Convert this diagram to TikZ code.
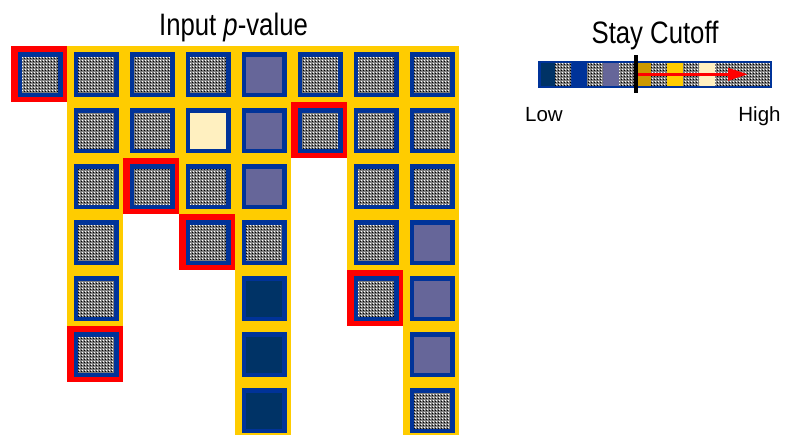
\documentclass[tikz,border=0pt]{standalone}
\usepackage{fontspec}
\setmainfont{Liberation Sans}
\newfontfamily\narrowfont{Liberation Sans}[FakeStretch=0.83]
\usetikzlibrary{patterns,arrows.meta}
\definecolor{cyel}{HTML}{FFCC00}
\definecolor{cred}{HTML}{FF0000}
\definecolor{cblue}{HTML}{003399}
\definecolor{clav}{HTML}{666699}
\definecolor{cnavy}{HTML}{003366}
\definecolor{ccream}{HTML}{FFF0C0}
\definecolor{cgold}{HTML}{CC9900}
\definecolor{cgray}{HTML}{7E7E7E}
\pgfdeclarepatternformonly{darkdots}{\pgfpointorigin}{\pgfqpoint{3pt}{3pt}}{\pgfqpoint{3pt}{3pt}}{\pgfpathrectangle{\pgfpointorigin}{\pgfqpoint{1.1pt}{1.1pt}}\pgfusepath{fill}}
\pgfdeclarepatternformonly{lightdots}{\pgfpointorigin}{\pgfqpoint{3pt}{3pt}}{\pgfqpoint{3pt}{3pt}}{\pgfpathrectangle{\pgfqpoint{1.5pt}{1.5pt}}{\pgfqpoint{1pt}{1pt}}\pgfusepath{fill}}
\tikzset{
  cellbg/.style={minimum size=56pt, inner sep=0pt, outer sep=0pt, fill=cyel},
  redbg/.style={cellbg, fill=cred},
  sq/.style={minimum size=40.5pt, inner sep=0pt, outer sep=0pt, line width=4.5pt, draw=cblue},
  dither/.style={preaction={fill=cgray}, preaction={pattern=darkdots, pattern color=black}, pattern=lightdots, pattern color=white},
  pat/.style={sq, dither},
  lav/.style={sq, fill=clav},
  navy/.style={sq, fill=cnavy},
  cream/.style={sq, fill=ccream},
  title/.style={font=\narrowfont\fontsize{31}{36}\selectfont, inner sep=0pt, anchor=base},
  endlabel/.style={font=\fontsize{20.5}{24}\selectfont, inner sep=0pt, anchor=base}
}
\begin{document}
\begin{tikzpicture}[x=1pt,y=-1pt]
\useasboundingbox (0,0) rectangle (787,434);
\clip (0,0) rectangle (787,434);
\fill[white] (0,0) rectangle (787,434);
% grid of cells
\foreach \c/\r/\t/\b in {
  0/0/pat/redbg,
  1/0/pat/cellbg, 1/1/pat/cellbg, 1/2/pat/cellbg, 1/3/pat/cellbg, 1/4/pat/cellbg, 1/5/pat/redbg,
  2/0/pat/cellbg, 2/1/pat/cellbg, 2/2/pat/redbg,
  3/0/pat/cellbg, 3/1/cream/cellbg, 3/2/pat/cellbg, 3/3/pat/redbg,
  4/0/lav/cellbg, 4/1/lav/cellbg, 4/2/lav/cellbg, 4/3/pat/cellbg, 4/4/navy/cellbg, 4/5/navy/cellbg, 4/6/navy/cellbg,
  5/0/pat/cellbg, 5/1/pat/redbg,
  6/0/pat/cellbg, 6/1/pat/cellbg, 6/2/pat/cellbg, 6/3/pat/cellbg, 6/4/pat/redbg,
  7/0/pat/cellbg, 7/1/pat/cellbg, 7/2/pat/cellbg, 7/3/lav/cellbg, 7/4/lav/cellbg, 7/5/lav/cellbg, 7/6/pat/cellbg}
{
  \node[\b] (bg-\c-\r) at ({39+56*\c},{74+56*\r}) {};
  \node[\t] (sq-\c-\r) at ([xshift=1pt,yshift=-0.5pt]bg-\c-\r.center) {};
}
% titles
\node[title] (ttlin) at (233.5,35.5) {Input \textit{p}-value};
\node[title] (ttlstay) at (655,43) {Stay Cutoff};
% colour bar
\foreach \a/\e/\f in {540.7/555/cnavy, 571/587/cblue, 603/619/clav, 635/651/cgold, 667/683/cyel, 699/715/ccream}
  \fill[\f] (\a,63) rectangle (\e,85.7);
\foreach \a/\e in {555/571, 587/603, 619/635, 651/667, 683/699, 715/770}
  \path[dither] (\a,63) rectangle (\e,85.7);
\draw[cblue, line width=2.5pt] (539.6,62) rectangle (771,86.8);
\coordinate (arrS) at (637,74.3);
\coordinate (arrE) at (748,74.3);
\draw[cred, line width=3.5pt, -{Triangle[length=20pt,width=12pt]}] (arrS) -- (arrE);
\coordinate (cutTop) at (636,55);
\coordinate (cutBot) at (636,93);
\draw[black, line width=3.3pt] (cutTop) -- (cutBot);
\node[endlabel] (lowlbl) at (544,121.5) {Low};
\node[endlabel] (highlbl) at (759.5,121.5) {High};
\end{tikzpicture}
\end{document}
